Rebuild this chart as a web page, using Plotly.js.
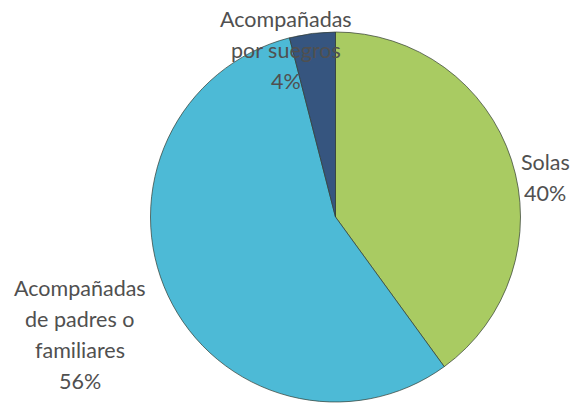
<!DOCTYPE html>
<html>
<head>
<meta charset="utf-8">
<script src="https://cdn.plot.ly/plotly-3.0.1.min.js"></script>
<style>html,body{margin:0;padding:0;background:#fff;}#chart{width:581px;height:403px;}</style>
</head>
<body>
<div id="chart"></div>
<script>
const categories = ["Solas", "Acompañadas de padres o familiares", "Acompañadas por suegros"];
const labelLines = [["Solas"], ["Acompañadas", "de padres o", "familiares"], ["Acompañadas", "por suegros"]];
const values = [40, 56, 4];
const colors = ["#A9CB62", "#4DBAD6", "#36557F"];

const W = 581, H = 403;
const cx = 335.5, cy = 217, r = 185;
// label anchor (center of first line) in pixels
const labelPos = [[545, 162], [80, 288], [286, 19]];
const lineGap = 31;

const annotations = [];
categories.forEach((c, i) => {
  const lines = labelLines[i].concat([values[i] + "%"]);
  lines.forEach((t, j) => {
    annotations.push({
      xref: "paper", yref: "paper",
      x: labelPos[i][0] / W, y: 1 - (labelPos[i][1] + j * lineGap) / H,
      text: t, showarrow: false, xanchor: "center", yanchor: "middle",
      font: {family: "Lato, 'Open Sans', sans-serif", size: 21.5, color: "#505050"}
    });
  });
});

const data = [{
  type: "pie",
  labels: categories,
  values: values,
  sort: false,
  direction: "clockwise",
  rotation: 0,
  textinfo: "none",
  hoverinfo: "none",
  marker: {colors: colors, line: {color: "rgba(50,60,50,0.7)", width: 1}},
  domain: {x: [(cx - r) / W, (cx + r) / W], y: [(H - cy - r) / H, (H - cy + r) / H]},
  showlegend: false
}];

const layout = {
  width: W, height: H,
  margin: {l: 0, r: 0, t: 0, b: 0},
  paper_bgcolor: "#fff",
  showlegend: false,
  annotations: annotations
};

Plotly.newPlot("chart", data, layout, {staticPlot: true, displayModeBar: false});
</script>
</body>
</html>
